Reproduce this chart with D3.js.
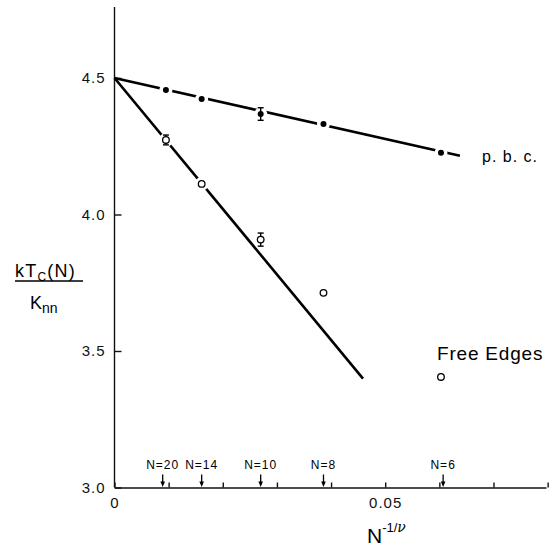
<!DOCTYPE html>
<html>
<head>
<meta charset="utf-8">
<script src="https://cdn.jsdelivr.net/npm/d3@7"></script>
<style>
  body { margin: 0; background: #fff; }
  svg { display: block; font-family: "Liberation Sans", Arial, sans-serif; }
  .axis path, .axis line { stroke: #111; stroke-width: 1.4; }
  .axis text { font-size: 15px; fill: #111; letter-spacing: 1px; }
  .fit { fill: none; stroke: #000; stroke-width: 2.6; }
</style>
</head>
<body>
<div id="chart"></div>
<script>
// Canvas size
var w = 556;
var h = 546;

// Axis ticks
var xTicks = [0, 0.01, 0.02, 0.03, 0.04, 0.05, 0.06, 0.07, 0.08];
var yTicks = [3.0, 3.5, 4.0, 4.5];

// Lattice sizes marked with arrows on the x axis
var sizeLabels = ["N=20", "N=14", "N=10", "N=8", "N=6"];
var sizeX = [0.0089, 0.0161, 0.0270, 0.0386, 0.0607];

// Measured points
var pointX = [0.0095, 0.0161, 0.0270, 0.0386, 0.0603];
var pbcValues = [4.456, 4.423, 4.368, 4.331, 4.226];
var pbcErrors = [0, 0, 0.023, 0, 0];
var freeValues = [4.273, 4.112, 3.908, 3.713, 3.405];
var freeErrors = [0.018, 0, 0.024, 0, 0];
// which free-edge points sit on the fitted line (line is broken there)
var freeOnLine = [true, true, true, false, false];

// Fitted straight lines (start, end)
var pbcFitX = [0, 0.0638];
var pbcFitY = [4.5, 4.215];
var freeFitX = [0, 0.0459];
var freeFitY = [4.5, 3.399];

var xScale = d3.scaleLinear().domain([0, 0.0797]).range([114.5, 546]);
var yScale = d3.scaleLinear().domain([3.0, 4.76]).range([487.5, 7]);

var svg = d3.select("#chart")
  .append("svg")
  .attr("width", w)
  .attr("height", h);

svg.append("rect").attr("width", w).attr("height", h).attr("fill", "#fff");

// x axis, ticks pointing inward
var xAxis = d3.axisBottom(xScale)
  .tickValues(xTicks)
  .tickSize(-5)
  .tickSizeOuter(0)
  .tickPadding(10)
  .tickFormat(function(d) {
    if (d === 0) return "0";
    if (d === 0.05) return "0.05";
    return "";
  });

svg.append("g")
  .attr("class", "axis")
  .attr("transform", "translate(0," + yScale(3.0) + ")")
  .call(xAxis);

// y axis
var yAxis = d3.axisLeft(yScale)
  .tickValues(yTicks)
  .tickSize(-7)
  .tickSizeOuter(0)
  .tickPadding(9)
  .tickFormat(d3.format(".1f"));

var gy = svg.append("g")
  .attr("class", "axis")
  .attr("transform", "translate(" + xScale(0) + ",0)")
  .call(yAxis);
gy.select(".domain").attr("d", "M0," + yScale(4.76) + "V" + yScale(3.0));

// fitted lines
var line = d3.line()
  .x(function(d) { return xScale(d[0]); })
  .y(function(d) { return yScale(d[1]); });

svg.append("path")
  .attr("class", "fit")
  .attr("d", line(d3.zip(pbcFitX, pbcFitY)));

svg.append("path")
  .attr("class", "fit")
  .attr("d", line(d3.zip(freeFitX, freeFitY)));

// white gaps in the lines around the points
svg.selectAll("circle.gap-pbc")
  .data(pbcValues)
  .join("circle")
  .attr("class", "gap-pbc")
  .attr("cx", function(d, i) { return xScale(pointX[i]); })
  .attr("cy", function(d) { return yScale(d); })
  .attr("r", 6.5)
  .attr("fill", "#fff");

svg.selectAll("circle.gap-free")
  .data(freeValues.filter(function(d, i) { return freeOnLine[i]; }))
  .join("circle")
  .attr("class", "gap-free")
  .attr("cx", function(d, i) { return xScale(pointX[i]); })
  .attr("cy", function(d) { return yScale(d); })
  .attr("r", 7)
  .attr("fill", "#fff");

// error bars
function errorBars(values, errors) {
  values.forEach(function(v, i) {
    if (!errors[i]) return;
    var x = xScale(pointX[i]);
    var y1 = yScale(v + errors[i]);
    var y2 = yScale(v - errors[i]);
    var g = svg.append("g").attr("stroke", "#000").attr("stroke-width", 1.4);
    g.append("line").attr("x1", x).attr("x2", x).attr("y1", y1).attr("y2", y2);
    g.append("line").attr("x1", x - 3).attr("x2", x + 3).attr("y1", y1).attr("y2", y1);
    g.append("line").attr("x1", x - 3).attr("x2", x + 3).attr("y1", y2).attr("y2", y2);
  });
}
errorBars(pbcValues, pbcErrors);
errorBars(freeValues, freeErrors);

// p.b.c. points (filled)
svg.selectAll("circle.pbc")
  .data(pbcValues)
  .join("circle")
  .attr("class", "pbc")
  .attr("cx", function(d, i) { return xScale(pointX[i]); })
  .attr("cy", function(d) { return yScale(d); })
  .attr("r", 3)
  .attr("fill", "#000");

// free edge points (open)
svg.selectAll("circle.free")
  .data(freeValues)
  .join("circle")
  .attr("class", "free")
  .attr("cx", function(d, i) { return xScale(pointX[i]); })
  .attr("cy", function(d) { return yScale(d); })
  .attr("r", 3.3)
  .attr("fill", "#fff")
  .attr("stroke", "#000")
  .attr("stroke-width", 1.3);

// size arrows and labels
var axisY = yScale(3.0);
sizeX.forEach(function(v, i) {
  var x = xScale(v);
  svg.append("line")
    .attr("x1", x).attr("x2", x)
    .attr("y1", axisY - 13).attr("y2", axisY - 3)
    .attr("stroke", "#000").attr("stroke-width", 1.3);
  svg.append("path")
    .attr("d", "M" + (x - 2.3) + "," + (axisY - 6) + "L" + (x + 2.3) + "," + (axisY - 6) + "L" + x + "," + (axisY - 0.5) + "Z")
    .attr("fill", "#000");
  svg.append("text")
    .attr("x", x)
    .attr("y", axisY - 19)
    .attr("text-anchor", "middle")
    .attr("font-size", "12px")
    .attr("letter-spacing", "1px")
    .text(sizeLabels[i]);
});

// series labels
svg.append("text")
  .attr("x", 482)
  .attr("y", 162)
  .attr("font-size", "16px")
  .attr("letter-spacing", "1px")
  .text("p. b. c.");

svg.append("text")
  .attr("x", 437)
  .attr("y", 360)
  .attr("font-size", "19px")
  .attr("letter-spacing", "0.8px")
  .text("Free Edges");

// y axis label as a fraction
var yl = svg.append("text")
  .attr("x", 15)
  .attr("y", 277)
  .attr("font-size", "18px")
  .attr("letter-spacing", "1.2px");
yl.append("tspan").text("kT");
yl.append("tspan").attr("font-size", "12px").attr("dy", 4).text("C");
yl.append("tspan").attr("dy", -4).text("(N)");

svg.append("line")
  .attr("x1", 15).attr("x2", 83)
  .attr("y1", 281).attr("y2", 281)
  .attr("stroke", "#000").attr("stroke-width", 1.6);

var kl = svg.append("text")
  .attr("x", 30)
  .attr("y", 309)
  .attr("font-size", "18px");
kl.append("tspan").text("K");
kl.append("tspan").attr("font-size", "14px").attr("dy", 4).text("nn");

// x axis label
var xl = svg.append("text")
  .attr("x", 367)
  .attr("y", 543)
  .attr("font-size", "21px");
xl.append("tspan").text("N");
xl.append("tspan").attr("font-size", "13px").attr("dy", -11).text("-1/");
xl.append("tspan").attr("font-size", "14px").attr("font-style", "italic").attr("font-family", "DejaVu Serif").text("ν");
</script>
</body>
</html>
